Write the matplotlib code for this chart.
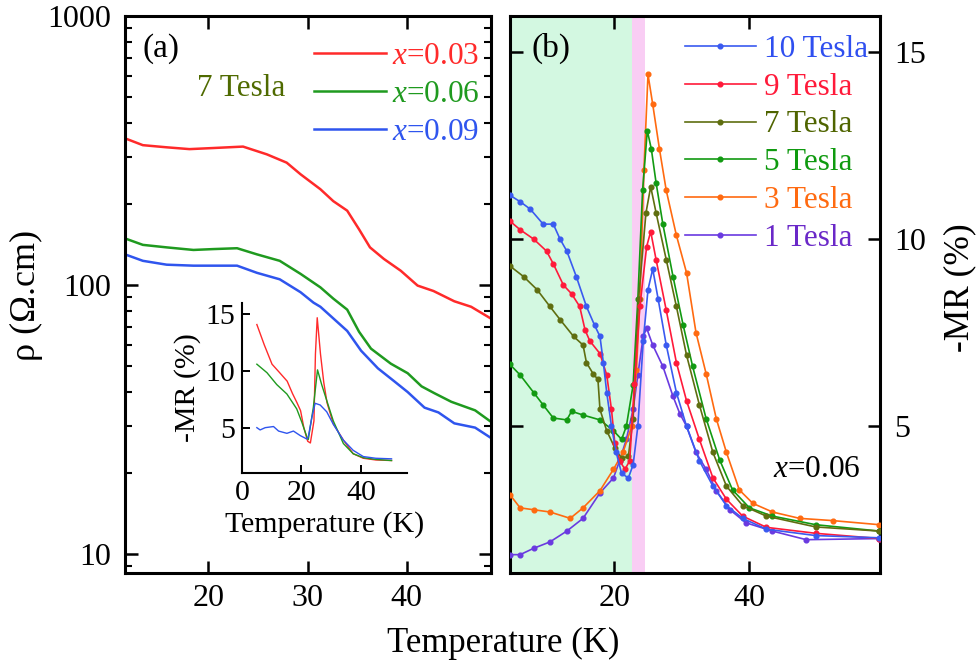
import numpy as np
import matplotlib
matplotlib.use("Agg")
import matplotlib.pyplot as plt
from matplotlib.ticker import FixedLocator, NullFormatter, LogLocator

plt.rcParams['font.family'] = ['Liberation Serif', 'DejaVu Serif']
plt.rcParams['mathtext.fontset'] = 'custom'
plt.rcParams['mathtext.it'] = 'Liberation Serif:italic'
plt.rcParams['mathtext.rm'] = 'Liberation Serif'

# ---- panel (a): resistivity at 7 Tesla ----
Ta_red = [11.6, 13.4, 15.8, 18.1, 20.5, 23.5, 25.9, 27.9, 29.3, 31.3, 32.6, 34.0,
          35.2, 36.3, 37.7, 39.4, 41.1, 42.7, 44.8, 46.5, 48.5]
rho_red = [351, 331, 325, 320, 323, 327, 306, 285, 258, 227, 205, 189,
           161, 138, 125, 113, 99.5, 95, 87, 83, 75]
Ta_green = [11.6, 13.4, 15.8, 18.5, 20.5, 22.9, 24.9, 27.2, 29.3, 31.3, 32.6, 34.0,
            35.2, 36.4, 38.4, 40.1, 41.5, 42.8, 44.5, 46.9, 48.5]
rho_green = [149, 141, 138, 135, 136, 137, 130, 123, 110, 98, 89, 81,
             67, 58, 51, 47, 42, 39.6, 36.8, 34.2, 31]
Ta_blue = [11.6, 13.4, 15.8, 18.5, 22.9, 24.9, 27.2, 29.3, 30.6, 31.3, 34.0, 35.4,
           37.1, 38.7, 40.1, 41.8, 43.2, 44.8, 46.9, 48.5]
rho_blue = [130, 123, 119, 118, 118, 111, 105, 94, 86, 83, 67.5, 57,
            49, 44, 40, 35, 33.6, 30.6, 29.5, 27]
labels_a = ['$x$=0.03', '$x$=0.06', '$x$=0.09']
colors_a = ['#ff2a2a', '#1f9a1f', '#2f55ee']

# ---- inset: -MR at 7 Tesla ----
Ti_red = [5, 7.5, 10.1, 12.5, 15.2, 17, 18.5, 19.7, 20.8, 22.1, 23, 24.2, 24.7,
          25.3, 26.4, 27.5, 28.6, 30.7, 34.1, 37.4, 40.8, 45, 50.3]
mr_red = [14.1, 12.3, 10.6, 9.9, 9.1, 8.0, 7.2, 6.5, 5.0, 3.8, 3.65, 5.6, 11.5,
          14.7, 11.5, 9.0, 7.2, 5.35, 3.9, 2.7, 2.3, 2.15, 2.1]
Ti_green = [5, 8.4, 11.7, 15.1, 18.4, 20.1, 21.8, 22.3, 24, 25.4, 26.8, 28.5,
            30.7, 34.1, 37.4, 40.8, 45, 50.3]
mr_green = [10.6, 9.85, 8.8, 7.97, 6.66, 5.5, 4.2, 3.95, 6.8, 10.1, 8.8, 7.4,
            5.6, 3.6, 2.7, 2.35, 2.2, 2.1]
Ti_blue = [5, 6.1, 7.8, 10.6, 12.3, 15.1, 17.3, 19.6, 21.8, 22.3, 23.5, 24.6,
           26.3, 28.5, 30.7, 34.1, 37.4, 40.8, 45, 50.3]
mr_blue = [5.0, 4.8, 5.0, 5.1, 4.7, 4.5, 4.7, 4.3, 4.0, 4.2, 5.9, 7.15,
           7.0, 6.4, 5.3, 3.9, 3.0, 2.45, 2.3, 2.25]

# ---- panel (b): -MR of x=0.06 at several fields ----
Tb_10 = [4.6, 6.1, 7.6, 9.5, 11.0, 12.0, 13.0, 14.4, 15.9, 17.1, 17.9, 18.4, 18.9,
         19.6, 20.3, 21.1, 22.1, 22.8, 23.5, 24.3, 25.0, 25.7, 26.5, 27.7, 29.2,
         30.7, 32.6, 34.6, 36.6, 39.0, 42.5, 49.8, 59.2]
mr_10 = [11.17, 11.0, 10.8, 10.4, 10.4, 10.0, 9.68, 9.0, 8.2, 7.7, 7.4, 6.7, 5.9,
         5.0, 4.3, 3.74, 3.62, 3.97, 5.0, 7.28, 8.65, 9.2, 8.4, 7.17, 5.9,
         5.0, 4.08, 3.4, 2.88, 2.54, 2.25, 2.08, 2.02]
Tb_9 = [4.6, 6.1, 8.1, 10.0, 11.0, 12.5, 13.7, 14.9, 15.7, 16.4, 17.9, 18.9, 19.6,
        20.1, 20.8, 21.6, 22.3, 23.0, 23.8, 24.8, 25.4, 26.2, 27.7, 29.2, 30.7,
        32.6, 34.6, 36.6, 39.0, 42.5, 49.8, 59.2]
mr_9 = [10.48, 10.25, 10.0, 9.68, 9.34, 8.77, 8.54, 8.2, 7.57, 7.28, 6.94, 6.37, 5.45,
        4.54, 4.08, 3.85, 4.08, 6.14, 8.2, 9.8, 10.2, 9.45, 8.1, 6.7, 5.68,
        4.65, 3.62, 3.05, 2.6, 2.3, 2.14, 2.0]
Tb_7 = [4.6, 6.6, 8.6, 10.5, 12.0, 14.0, 15.4, 15.9, 16.9, 17.6, 17.9, 18.9, 20.1,
        21.1, 22.1, 22.8, 23.6, 24.7, 25.4, 26.2, 27.7, 29.2, 30.7, 32.6, 34.6,
        36.6, 39.0, 42.5, 49.8, 59.2]
mr_7 = [9.28, 9.0, 8.65, 8.2, 7.85, 7.4, 7.17, 6.7, 6.4, 6.25, 5.45, 4.88, 4.42,
        4.14, 4.2, 5.2, 8.4, 10.7, 11.4, 10.7, 9.45, 8.2, 6.9, 5.57, 4.3,
        3.4, 2.88, 2.6, 2.31, 2.2]
Tb_5 = [4.6, 6.1, 8.1, 9.5, 11.0, 13.0, 13.7, 15.4, 17.9, 19.9, 21.1, 21.8, 22.8,
        23.5, 24.2, 24.9, 25.5, 26.2, 27.2, 28.7, 30.2, 31.6, 33.6, 35.6, 37.5,
        40.0, 43.4, 49.8, 59.2]
mr_5 = [6.65, 6.37, 5.9, 5.57, 5.22, 5.17, 5.4, 5.3, 5.17, 4.88, 4.65, 5.0, 6.1,
        8.4, 11.3, 12.9, 12.4, 11.5, 10.4, 9.0, 7.7, 6.6, 5.2, 4.1, 3.3,
        2.82, 2.6, 2.37, 2.2]
Tb_3 = [4.6, 6.1, 8.1, 10.5, 13.5, 15.4, 17.9, 19.9, 21.3, 22.6, 23.3, 23.8, 24.4,
        25.0, 25.7, 26.7, 27.7, 29.2, 30.7, 32.1, 33.6, 35.1, 36.6, 38.5, 40.5,
        43.4, 47.4, 52.3, 59.2]
mr_3 = [3.17, 2.82, 2.77, 2.71, 2.54, 2.82, 3.28, 3.85, 4.3, 5.0, 6.5, 8.4, 11.85,
        14.4, 13.6, 12.4, 11.3, 10.1, 9.1, 7.5, 6.4, 5.2, 4.3, 3.3, 2.94,
        2.71, 2.54, 2.48, 2.37]
Tb_1 = [4.6, 6.1, 8.1, 10.5, 13.0, 15.4, 17.9, 19.9, 20.8, 21.8, 22.8, 23.5, 24.3,
        24.8, 25.7, 27.2, 28.7, 29.7, 30.7, 32.1, 33.6, 35.1, 37.1, 39.5, 43.4,
        48.4, 59.2]
mr_1 = [1.57, 1.57, 1.74, 1.91, 2.2, 2.54, 3.22, 3.62, 4.08, 4.65, 5.45, 6.37, 7.4,
        7.62, 7.17, 6.6, 5.8, 5.34, 5.0, 4.3, 3.85, 3.28, 2.77, 2.42, 2.2,
        1.97, 2.0]

fields_b = ['10 Tesla', '9 Tesla', '7 Tesla', '5 Tesla', '3 Tesla', '1 Tesla']
colors_b = ['#3a5af0', '#ff1a3a', '#5f6e10', '#129a12', '#ff6a10', '#6a3ae0']
text_colors_b = ['#2f4ff0', '#ff1a3a', '#4f6400', '#0f9a0f', '#ff6a10', '#6a28c8']

W, H = 980, 667
fig = plt.figure(figsize=(W / 100, H / 100), dpi=100)


def box(l, r, t, b):
    return [l / W, 1 - b / H, (r - l) / W, (b - t) / H]


def style_ax(ax):
    for s in ax.spines.values():
        s.set_linewidth(2.2)
    ax.tick_params(which='major', direction='in', length=9, width=1.8, labelsize=23)
    ax.tick_params(which='minor', direction='in', length=5, width=1.5)
    ax.tick_params(axis='x', which='major', pad=8)
    ax.tick_params(axis='y', which='major', pad=10)


# ---------- panel (a) ----------
axa = fig.add_axes(box(125, 491, 16, 573))
style_ax(axa)
for T, r, c, lab in zip([Ta_red, Ta_green, Ta_blue], [rho_red, rho_green, rho_blue],
                        colors_a, labels_a):
    axa.plot(T, r, color=c, lw=1.8, label=lab)
axa.set_yscale('log')
axa.set_ylim(8.5, 1000)
axa.set_xlim(11.6, 48.5)
axa.xaxis.set_major_locator(FixedLocator([20, 30, 40]))
axa.yaxis.set_major_locator(FixedLocator([10, 100, 1000]))
axa.set_yticklabels(['10', '100', '1000'])
axa.yaxis.set_minor_locator(LogLocator(base=10, subs=np.arange(2, 10)))
axa.yaxis.set_minor_formatter(NullFormatter())
axa.tick_params(which='both', top=True, right=True)
leg = axa.legend(loc='upper left', bbox_to_anchor=(0.516, 0.953), frameon=False,
                 fontsize=22.5, handlelength=2.3, handletextpad=0.2, labelspacing=0.28,
                 borderpad=0, borderaxespad=0, labelcolor='linecolor')
axa.text(0.049, 0.941, '(a)', transform=axa.transAxes, fontsize=24, va='center')
axa.text(0.197, 0.869, '7 Tesla', transform=axa.transAxes, fontsize=22.5,
         color='#4f6a00', va='center')

# ---------- inset ----------
axi = fig.add_axes(box(242, 407, 303, 473))
axi.patch.set_alpha(0)
for T, m, c in zip([Ti_red, Ti_green, Ti_blue], [mr_red, mr_green, mr_blue], colors_a):
    axi.plot(T, m, color=c, lw=1.0)
axi.set_xlim(0, 55.5)
axi.set_ylim(1, 16)
axi.spines['top'].set_visible(False)
axi.spines['right'].set_visible(False)
for s in ['left', 'bottom']:
    axi.spines[s].set_linewidth(1.5)
axi.set_xticks([0, 20, 40])
axi.set_yticks([5, 10, 15])
axi.tick_params(direction='in', length=6, width=1.4, labelsize=21.5, pad=5)
axi.set_xlabel('Temperature (K)', fontsize=21.5, labelpad=4)
axi.set_ylabel('-MR (%)', fontsize=21.5, labelpad=3)

# ---------- panel (b) ----------
axb = fig.add_axes(box(510, 880, 16, 573))
style_ax(axb)
axb.set_xlim(4.6, 59.3)
axb.set_ylim(1.08, 15.96)
axb.axvspan(4.6, 22.65, color='#d3f8e1', lw=0, zorder=0)
axb.axvspan(22.65, 24.6, color='#f9cdf4', lw=0, zorder=0)
Tb = [Tb_10, Tb_9, Tb_7, Tb_5, Tb_3, Tb_1]
mrb = [mr_10, mr_9, mr_7, mr_5, mr_3, mr_1]
handles = [None] * 6
for i in [5, 4, 3, 2, 1, 0]:
    h, = axb.plot(Tb[i], mrb[i], color=colors_b[i], lw=1.2, marker='o', ms=3.4,
                  label=fields_b[i], zorder=3)
    handles[i] = h
axb.xaxis.set_major_locator(FixedLocator([20, 40]))
axb.yaxis.set_major_locator(FixedLocator([5, 10, 15]))
axb.tick_params(which='both', top=True, right=True, left=True,
                labelleft=False, labelright=True)
legb = axb.legend(handles=handles, loc='upper left', bbox_to_anchor=(0.473, 0.966),
                  frameon=False, fontsize=22.5, handlelength=2.26, handletextpad=0.26,
                  labelspacing=0.28, borderpad=0, borderaxespad=0, numpoints=1)
for t, c in zip(legb.get_texts(), text_colors_b):
    t.set_color(c)
axb.text(0.059, 0.941, '(b)', transform=axb.transAxes, fontsize=24, va='center')
axb.text(0.711, 0.185, '$x$=0.06', transform=axb.transAxes, fontsize=22.5, va='center')

# ---------- outer labels ----------
fig.text(503 / W, 1 - 643 / H, 'Temperature (K)', ha='center', va='center', fontsize=25)
fig.text(26 / W, 1 - 295 / H, 'ρ (Ω.cm)', ha='center', va='center', fontsize=26,
         rotation=90)
fig.text(960 / W, 1 - 288 / H, '-MR (%)', ha='center', va='center', fontsize=25.5,
         rotation=90)

fig.savefig('out.png', dpi=100)
